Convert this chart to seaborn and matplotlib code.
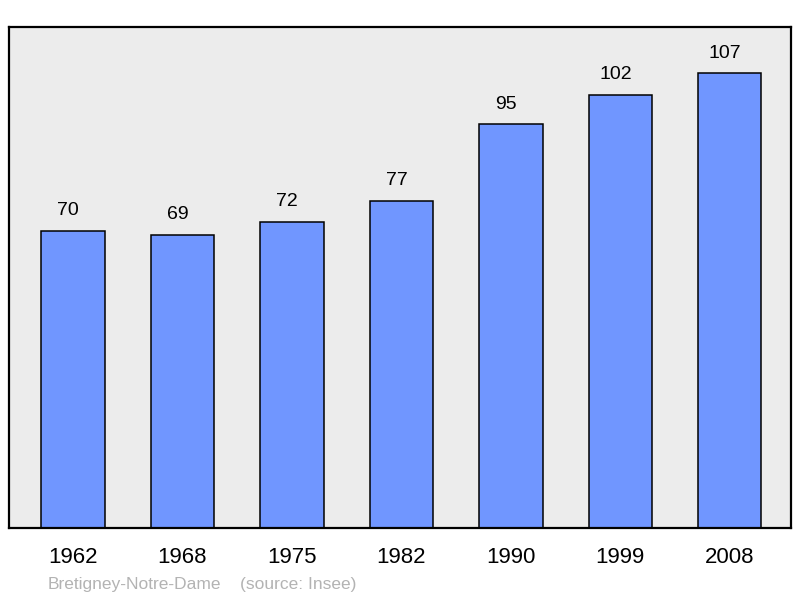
import seaborn as sns
import matplotlib.pyplot as plt
import pandas as pd

# Population data
years = ["1962", "1968", "1975", "1982", "1990", "1999", "2008"]
population = [70, 69, 72, 77, 95, 102, 107]

df = pd.DataFrame({"year": years, "population": population})

sns.set_style("white")
plt.rcParams["font.family"] = ["Liberation Sans", "DejaVu Sans"]
plt.rcParams["text.color"] = "black"
plt.rcParams["xtick.color"] = "black"

fig = plt.figure(figsize=(8, 5.98), dpi=100)
ax = fig.add_axes([9 / 800, 70 / 598, 782 / 800, 501 / 598])
ax.set_facecolor("#ececec")

sns.barplot(data=df, x="year", y="population", color="#7096ff", saturation=1,
            width=0.58, edgecolor="black", linewidth=1.1, ax=ax)

# value labels above bars
for i, v in enumerate(population):
    ax.annotate(str(v), (i, v), xytext=(-3.5, 8.5), textcoords="offset points",
                ha="center", va="bottom", fontsize=14, color="black")

ax.set_ylim(0, 117.9)
ax.set_xlim(-0.585, 6.56)
ax.set_yticks([])
ax.set_xlabel("")
ax.set_ylabel("")
ax.tick_params(axis="x", length=0, labelsize=16, pad=14, labelcolor="black")
for s in ax.spines.values():
    s.set_linewidth(1.6)
    s.set_color("black")

fig.text(48 / 800, 1 - 584 / 598, "Bretigney-Notre-Dame", color="#b3b3b3",
         fontsize=12.5, va="center", ha="left")
fig.text(240 / 800, 1 - 584 / 598, "(source: Insee)", color="#b3b3b3",
         fontsize=12.5, va="center", ha="left")

fig.savefig("out.png", dpi=100)
